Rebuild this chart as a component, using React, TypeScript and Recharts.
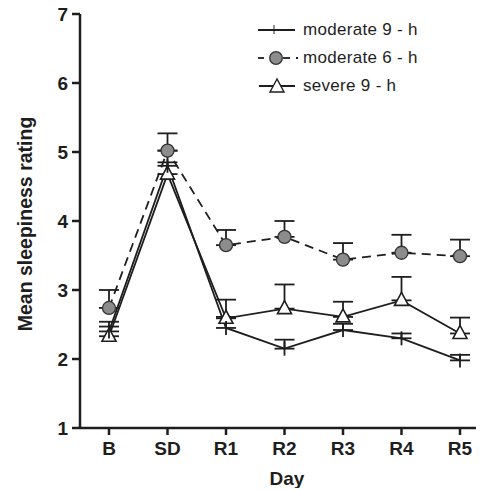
import React from 'react';
import { LineChart, Line, XAxis, YAxis, ErrorBar, Legend } from 'recharts';

const days = ['B', 'SD', 'R1', 'R2', 'R3', 'R4', 'R5'];
const moderate9h = [2.40, 4.80, 2.45, 2.15, 2.42, 2.30, 1.98];
const moderate9hErr = [0.07, 0.22, 0.16, 0.13, 0.09, 0.07, 0.08];
const moderate6h = [2.74, 5.02, 3.65, 3.77, 3.44, 3.54, 3.49];
const moderate6hErr = [0.26, 0.25, 0.22, 0.23, 0.24, 0.26, 0.24];
const severe9h = [2.33, 4.68, 2.59, 2.73, 2.61, 2.85, 2.37];
const severe9hErr = [0.21, 0.17, 0.27, 0.35, 0.22, 0.34, 0.23];
const yTicks = [1, 2, 3, 4, 5, 6, 7];

const seriesNames = ['moderate 9 - h', 'moderate 6 - h', 'severe 9 - h'];

const data = days.map((d, i) => ({
  day: d,
  mod9: moderate9h[i],
  mod9Err: [0, moderate9hErr[i]],
  mod6: moderate6h[i],
  mod6Err: [0, moderate6hErr[i]],
  sev9: severe9h[i],
  sev9Err: [0, severe9hErr[i]],
}));

const FONT = '"Liberation Sans", Arial, Helvetica, sans-serif';
const INK = '#1e1e1e';

const TickDot = (props: any) => {
  const { cx, cy, index } = props;
  if (cx == null || cy == null) return null;
  return <line key={`t${index}`} x1={cx} x2={cx} y1={cy - 7} y2={cy + 7} stroke={INK} strokeWidth={1.8} />;
};

const TriDot = (props: any) => {
  const { cx, cy, index } = props;
  if (cx == null || cy == null) return null;
  const pts = `${cx},${cy - 8} ${cx - 7},${cy + 5} ${cx + 7},${cy + 5}`;
  return <polygon key={`tr${index}`} points={pts} fill="#ffffff" stroke={INK} strokeWidth={1.6} />;
};

const YLabel = (props: any) => {
  const vb = props.viewBox || { y: 12, height: 414 };
  const cx = 17;
  const cy = vb.y + vb.height / 2 + 3;
  return (
    <text x={cx} y={cy} transform={`rotate(-90, ${cx}, ${cy})`} textAnchor="middle" dominantBaseline="central"
      fontFamily={FONT} fontWeight="bold" fontSize={19.5} fill={INK}>
      Mean sleepiness rating
    </text>
  );
};

const XLabel = (props: any) => {
  const vb = props.viewBox || { x: 72, width: 404 };
  const cx = vb.x + vb.width / 2 + 5;
  return (
    <text x={cx} y={482.5} textAnchor="middle" fontFamily={FONT} fontWeight="bold" fontSize={19} fill={INK}>
      Day
    </text>
  );
};

const icon = (i: number) => {
  if (i === 0) {
    return (
      <svg width={45} height={18}>
        <line x1={0} x2={37} y1={9} y2={9} stroke={INK} strokeWidth={1.8} />
        <line x1={16} x2={16} y1={4} y2={13} stroke={INK} strokeWidth={1} />
      </svg>
    );
  }
  if (i === 1) {
    return (
      <svg width={45} height={18}>
        <line x1={0} x2={6} y1={9} y2={9} stroke={INK} strokeWidth={1.8} />
        <line x1={25} x2={32} y1={9} y2={9} stroke={INK} strokeWidth={1.8} />
        <line x1={38} x2={40} y1={9} y2={9} stroke={INK} strokeWidth={1.8} />
        <circle cx={18} cy={9} r={6.3} fill="#8c8c8c" stroke="#333" strokeWidth={1.3} />
      </svg>
    );
  }
  return (
    <svg width={45} height={18}>
      <line x1={1} x2={37} y1={9} y2={9} stroke={INK} strokeWidth={1.8} />
      <polygon points="19,2 12,15 26,15" fill="#fff" stroke={INK} strokeWidth={1.4} />
    </svg>
  );
};

const LegendContent = () => (
  <div style={{ fontFamily: FONT, fontSize: 17, letterSpacing: 0.3, color: INK }}>
    {seriesNames.map((n, i) => (
      <div key={n} style={{ display: 'flex', alignItems: 'center', height: 28, whiteSpace: 'nowrap' }}>
        {icon(i)}
        <span>{n}</span>
      </div>
    ))}
  </div>
);

export default function App() {
  return (
    <div style={{ width: 476, height: 486, marginTop: -6 }}>
      <LineChart width={476} height={486} data={data} margin={{ top: 12, right: 0, bottom: 0, left: 0 }}>
        <XAxis
          dataKey="day"
          height={60}
          padding={{ left: 29, right: 24 }}
          stroke={INK}
          strokeWidth={2.5}
          tickSize={7}
          tickMargin={7}
          tick={{ fontFamily: FONT, fontWeight: 'bold', fontSize: 19, fill: INK }}
          tickLine={{ stroke: INK, strokeWidth: 2.5 }}
          label={XLabel}
        />
        <YAxis
          width={72}
          domain={[1, 7]}
          ticks={yTicks}
          interval={0}
          allowDataOverflow
          stroke={INK}
          strokeWidth={2.5}
          tickSize={8}
          tickMargin={4}
          tick={{ fontFamily: FONT, fontWeight: 'bold', fontSize: 19, fill: INK }}
          tickLine={{ stroke: INK, strokeWidth: 2.5 }}
          label={YLabel}
        />
        <Legend
          layout="horizontal"
          verticalAlign="middle"
          align="center"
          content={LegendContent}
          wrapperStyle={{ position: 'absolute', left: 250, top: 14, width: 'auto', height: 'auto' }}
        />
        <Line
          type="linear"
          dataKey="mod6"
          name={seriesNames[1]}
          stroke={INK}
          strokeWidth={1.8}
          strokeDasharray="9 6"
          dot={{ r: 6.5, fill: '#8c8c8c', stroke: '#333', strokeWidth: 1.3, strokeDasharray: '' }}
          isAnimationActive={false}
        >
          <ErrorBar dataKey="mod6Err" direction="y" width={10} stroke={INK} strokeWidth={1.8} />
        </Line>
        <Line
          type="linear"
          dataKey="sev9"
          name={seriesNames[2]}
          stroke={INK}
          strokeWidth={1.8}
          dot={TriDot}
          isAnimationActive={false}
        >
          <ErrorBar dataKey="sev9Err" direction="y" width={10} stroke={INK} strokeWidth={1.8} />
        </Line>
        <Line
          type="linear"
          dataKey="mod9"
          name={seriesNames[0]}
          stroke={INK}
          strokeWidth={1.8}
          dot={TickDot}
          isAnimationActive={false}
        >
          <ErrorBar dataKey="mod9Err" direction="y" width={10} stroke={INK} strokeWidth={1.8} />
        </Line>
      </LineChart>
    </div>
  );
}
